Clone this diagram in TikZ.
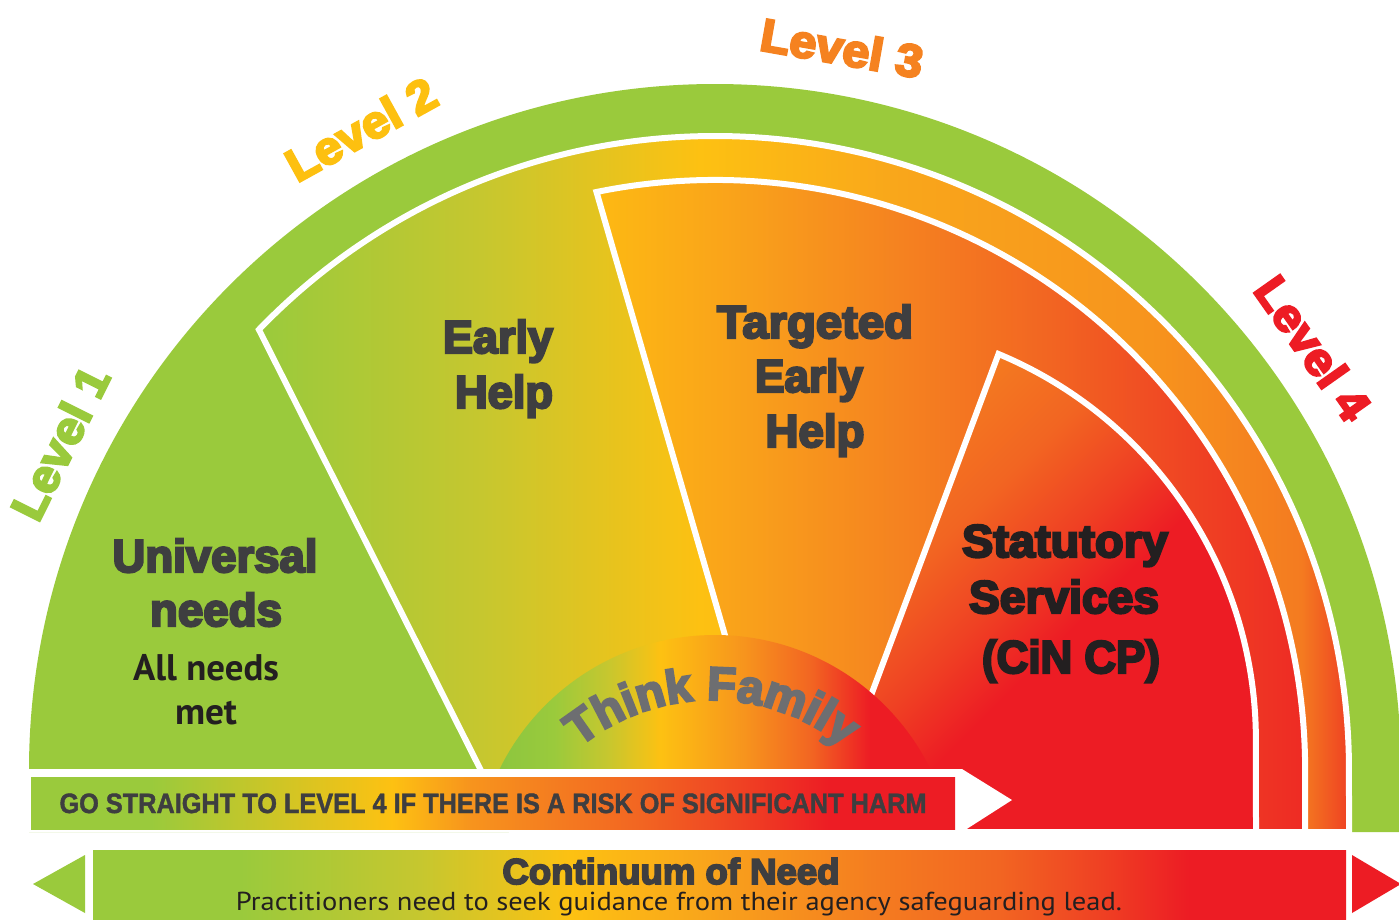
\documentclass[tikz,border=0pt]{standalone}
\usepackage{fontspec}
\usepackage{graphicx}
\setmainfont{Liberation Sans}
\newfontfamily\heavy{Liberation Sans}[BoldFeatures={FakeBold=5}]
\newfontfamily\medheavy{Liberation Sans}[BoldFeatures={FakeBold=1.5}]
\newfontfamily\myriad{PT Sans}
\usetikzlibrary{decorations.text}

\definecolor{lvgreen}{HTML}{9ACA3C}
\definecolor{lvyellow}{HTML}{FDC010}
\definecolor{lvorange}{HTML}{F58220}
\definecolor{lvred}{HTML}{ED1C24}
\definecolor{txtgray}{HTML}{3E3E40}
\definecolor{txtblack}{HTML}{231F20}
\definecolor{tfgray}{HTML}{6D6E71}
\definecolor{gA}{HTML}{9ACA3C}
\definecolor{gA2}{HTML}{8DC63F}
\definecolor{gOlive}{HTML}{C6C72F}
\definecolor{gYel}{HTML}{FDC112}
\definecolor{gYO}{HTML}{FDB913}
\definecolor{gLOr}{HTML}{F9A61B}
\definecolor{gLOr2}{HTML}{F9A01B}
\definecolor{gOr}{HTML}{F7941D}
\definecolor{gOr2}{HTML}{F47B20}
\definecolor{gOrR}{HTML}{F26522}
\definecolor{gRO}{HTML}{EF4123}
\definecolor{gRR}{HTML}{EE2A24}
\definecolor{gR}{HTML}{ED1C24}

\newcommand\fitw[2]{\resizebox{#1}{\height}{#2}}
\newcommand\tffont{\heavy\bfseries\fontsize{47}{47}\selectfont\color{tfgray}}

\pgfdeclarehorizontalshading{ehshade}{100bp}{color(0bp)=(gA); color(34.3bp)=(gA); color(42.2bp)=(gOlive); color(50bp)=(gYel); color(57.2bp)=(gLOr); color(66.1bp)=(gOr); color(71.5bp)=(gOr2); color(73.2bp)=(gRO); color(100bp)=(gRO)}
\pgfdeclarehorizontalshading{tehshade}{100bp}{color(0bp)=(gYO); color(46.4bp)=(gYO); color(51.8bp)=(gLOr2); color(57.2bp)=(lvorange); color(62.5bp)=(gOrR); color(67.9bp)=(gRO); color(71.7bp)=(gRR); color(100bp)=(gRR)}
\pgfdeclarehorizontalshading{tfshade}{100bp}{color(0bp)=(gA2); color(42.9bp)=(gA2); color(44.8bp)=(gA); color(46.7bp)=(gOlive); color(48.6bp)=(gYel); color(51.6bp)=(gOr); color(54bp)=(gOrR); color(56.1bp)=(gR); color(100bp)=(gR)}
\pgfdeclarehorizontalshading{goshade}{100bp}{color(0bp)=(gA); color(30.4bp)=(gA); color(39bp)=(gYel); color(41.8bp)=(gOr); color(45bp)=(gOr2); color(47.9bp)=(gOrR); color(51.5bp)=(gRO); color(54.7bp)=(gR); color(100bp)=(gR)}
\pgfdeclarehorizontalshading{cnshade}{100bp}{color(0bp)=(gA); color(33.6bp)=(gA); color(40bp)=(gOlive); color(45.4bp)=(gYel); color(50bp)=(gLOr); color(56.5bp)=(gOr2); color(60.7bp)=(gOrR); color(64.3bp)=(gRO); color(67.5bp)=(gR); color(100bp)=(gR)}
\pgfdeclareverticalshading{ssshade}{100bp}{color(0bp)=(gR); color(44bp)=(gR); color(50bp)=(gRO); color(57bp)=(gOrR); color(65bp)=(gOr2); color(100bp)=(gOr2)}

\tikzset{
  bigtxt/.style={anchor=base, inner sep=0pt, font=\heavy\bfseries\fontsize{46}{46}\selectfont},
  lvl/.style={inner sep=0pt, font=\heavy\bfseries\fontsize{46}{46}\selectfont},
  zone/.style={draw=white, line width=6pt},
}

\begin{document}
\begin{tikzpicture}[x=1pt,y=-1pt]
\fill[white] (0,0) rectangle (1399,919);
\useasboundingbox (0,0) rectangle (1399,919);

% outer green semicircle
\fill[lvgreen] (29,832) -- (29,770) arc[start angle=180,end angle=360,radius=686] -- (1401,832) -- cycle;

% Early Help sector
\path[zone, path picture={\shade[shading=ehshade] (0,0) rectangle (1399,919);}]
  (512,832) -- (258.9,329.6) arc[start angle=224,end angle=360,radius=634] -- (1349,832) -- cycle;

% Targeted Early Help sector
\path[zone, path picture={\shade[shading=tehshade] (0,0) rectangle (1399,919);}]
  (782,832) -- (596.5,192) arc[start angle=258.4,end angle=360,radius=590] -- (1305,832) -- cycle;

% Statutory sector
\path[zone, path picture={\shade[shading=ssshade, shading angle=45] (740,260) rectangle (1340,860);}]
  (820,832) -- (998.5,354) arc[start angle=292.6,end angle=360,radius=418] -- (1256,832) -- cycle;

% Think Family disc
\begin{scope}
  \clip (0,0) rectangle (1399,769);
  \path[path picture={\shade[shading=tfshade] (0,0) rectangle (1399,919);}] (715,875) circle[radius=240];
\end{scope}

% white arrow with the GO bar
\fill[white] (29,769) -- (962,769) -- (1012,800) -- (962,832) -- (29,832) -- cycle;
\begin{scope}
  \clip (31,777) rectangle (955,829);
  \shade[shading=goshade] (0,0) rectangle (1399,919);
\end{scope}

% bottom bar and arrowheads
\begin{scope}
  \clip (93,850) rectangle (1346,925);
  \shade[shading=cnshade] (0,0) rectangle (1399,919);
\end{scope}
\fill[lvgreen] (85,855) -- (33,884) -- (85,913) -- cycle;
\fill[lvred] (1352,855) -- (1401,884) -- (1352,913) -- cycle;

% Level labels
\node[lvl, text=lvgreen, rotate=63.5] (l1) at (60,443) {\fitw{164pt}{Level 1}};
\node[lvl, text=lvyellow, rotate=28.9] (l2) at (361,129) {\fitw{164pt}{Level 2}};
\node[lvl, text=lvorange, rotate=-10] (l3) at (842,48) {\fitw{164pt}{Level 3}};
\node[lvl, text=lvred, rotate=-54.8] (l4) at (1313,348) {\fitw{164pt}{Level 4}};

% sector texts
\node[bigtxt, text=txtgray] (u1) at (215,572) {\fitw{205pt}{Universal}};
\node[bigtxt, text=txtgray] (u2) at (216,626) {\fitw{132pt}{needs}};
\node[anchor=base, inner sep=0pt, text=txtblack, font=\myriad\bfseries\fontsize{37}{37}\selectfont] (u3) at (206,680) {\fitw{146pt}{All needs}};
\node[anchor=base, inner sep=0pt, text=txtblack, font=\myriad\bfseries\fontsize{37}{37}\selectfont] (u4) at (206,724) {\fitw{62pt}{met}};

\node[bigtxt, text=txtgray] (e1) at (498,353) {\fitw{110pt}{Early}};
\node[bigtxt, text=txtgray] (e2) at (504,408) {\fitw{98pt}{Help}};

\node[bigtxt, text=txtgray] (t1) at (815,338) {\fitw{196pt}{Targeted}};
\node[bigtxt, text=txtgray] (t2) at (809,392) {\fitw{108pt}{Early}};
\node[bigtxt, text=txtgray] (t3) at (815,447) {\fitw{99pt}{Help}};

\node[bigtxt, text=txtblack] (s1) at (1065,557) {\fitw{206pt}{Statutory}};
\node[bigtxt, text=txtblack] (s2) at (1064,613) {\fitw{190pt}{Services}};
\node[bigtxt, text=txtblack] (s3) at (1071,673) {\fitw{178pt}{(CiN CP)}};

% Think Family curved text
\coordinate (tfs) at (551.1,775);
\path[decorate, decoration={text along path, text align=center, text={|\tffont|Think Family}}]
  (tfs) arc[start angle=220,end angle=320,radius=210];

% bar texts
\node[anchor=base, inner sep=0pt, text=txtgray, font=\medheavy\bfseries\fontsize{28}{28}\selectfont] (go) at (493,813)
  {\fitw{867pt}{GO STRAIGHT TO LEVEL 4 IF THERE IS A RISK OF SIGNIFICANT HARM}};
\node[anchor=base, inner sep=0pt, text=txtgray, font=\heavy\bfseries\fontsize{36}{36}\selectfont] (cn) at (671,884)
  {\fitw{337pt}{Continuum of Need}};
\node[anchor=base, inner sep=0pt, text=txtblack, font=\myriad\fontsize{26}{26}\selectfont] (pr) at (679,910)
  {\fitw{886pt}{Practitioners need to seek guidance from their agency safeguarding lead.}};
\end{tikzpicture}
\end{document}
